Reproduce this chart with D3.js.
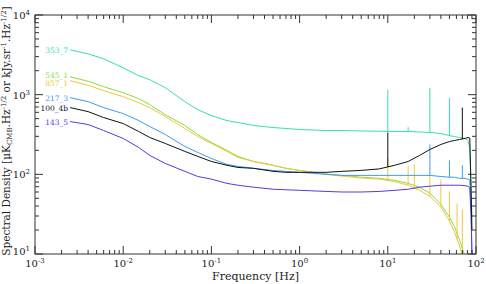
<!DOCTYPE html>
<html>
<head>
<meta charset="utf-8">
<script src="https://cdnjs.cloudflare.com/ajax/libs/d3/7.8.5/d3.min.js"></script>
<style>
    body { margin: 0; background: #fff; }
    text { font-family: "DejaVu Serif", serif; }
</style>
</head>
<body>
<svg id="chart" width="486" height="284"></svg>
<script>

// frequency grid [Hz], shared by every detector curve
let freqs = [0.0025, 0.004, 0.006, 0.01, 0.015, 0.02, 0.03, 0.05, 0.07, 0.1, 0.15, 0.2, 0.3, 0.5, 0.7,
    1, 2, 3, 5, 8, 12, 17, 23, 30, 40, 50, 57, 65, 75, 81, 85, 88, 90];

let names = ["353_7", "545_1", "857_1", "217_3", "100_4b", "143_5"];
let colors = ["#33e3a6", "#86df3c", "#f2c53c", "#3b9df0", "#111111", "#5a36df"];

let val353 = [3652, 3254, 2818, 2175, 1728, 1540, 1223, 817, 649, 546, 473, 447, 410, 387, 376,
    365, 355, 355, 350, 348, 345, 345, 340, 335, 325, 307, 298, 290, 282, 266, 217, 73, 29];
let val545 = [1679, 1475, 1259, 1059, 891, 750, 560, 410, 316, 251, 200, 168, 145, 130, 119,
    112, 101, 97, 92, 89, 84, 77, 69, 58, 42, 29, 22, 15, 9.4, 7.3, 6, 5, 5];
let val857 = [1496, 1314, 1122, 944, 794, 688, 531, 376, 299, 244, 194, 163, 145, 130, 119,
    112, 100, 95, 90, 87, 81, 73, 63, 53, 39, 26, 19, 12.6, 8, 6.5, 5, 5, 5];
let val217 = [917, 817, 688, 579, 473, 398, 316, 224, 188, 158, 133, 126, 119, 112, 109,
    106, 100, 97, 97, 97, 97, 97, 97, 97, 94, 92, 92, 89, 89, 87, 85, 40, 9];
let val100 = [688, 613, 516, 434, 345, 290, 244, 194, 168, 145, 130, 122, 119, 109, 106,
    106, 106, 109, 112, 117, 130, 145, 173, 205, 237, 258, 266, 274, 282, 290, 285, 60, 20];
let val143 = [460, 422, 355, 282, 217, 173, 137, 109, 94, 87, 77, 73, 69, 65, 64,
    63, 61, 60, 60, 61, 63, 65, 69, 71, 73, 73, 73, 73, 72, 71, 68, 30, 10];

// narrow lines: [frequency, peak value]
let spikes353 = [[10, 1155], [17, 390], [30, 1223], [50, 917]];
let spikes545 = [];
let spikes857 = [[10, 163], [17, 126], [20, 133], [30, 97], [40, 86], [50, 61], [61, 43], [70, 36]];
let spikes217 = [[30, 237], [50, 150], [70, 130]];
let spikes100 = [[10, 335], [70, 688]];
let spikes143 = [];

let xTickExp = ["-3", "-2", "-1", "0", "1", "2"];
let yTickExp = ["1", "2", "3", "4"];

let allValues = [val353, val545, val857, val217, val100, val143];
let allSpikes = [spikes353, spikes545, spikes857, spikes217, spikes100, spikes143];

let width = 486, height = 284;
let margin = {left: 35, right: 10, top: 15, bottom: 30};
let svg = d3.select("#chart");
let x, y;

function initScales() {
    x = d3.scaleLog().domain([1e-3, 1e2]).range([margin.left, width - margin.right]);
    y = d3.scaleLog().domain([10, 1e4]).range([height - margin.bottom, margin.top]);
}

// minor ticks 2..9 in every decade
function minorTicks(lo, hi) {
    let out = [];
    for (let e = lo; e < hi; e++) {
        for (let m = 2; m <= 9; m++) out.push(m * Math.pow(10, e));
    }
    return out;
}

function drawAxes() {
    let x0 = x.range()[0], x1 = x.range()[1];
    let y0 = y.range()[0], y1 = y.range()[1];
    let xMajor = xTickExp.map(e => Math.pow(10, +e));
    let yMajor = yTickExp.map(e => Math.pow(10, +e));
    let xMinor = minorTicks(-3, 2);
    let yMinor = minorTicks(1, 4);

    let g = svg.append("g").attr("stroke", "#333").attr("stroke-width", 1);

    // ticks point inward on all four sides
    [[y0, -1], [y1, 1]].forEach(([py, dir]) => {
        g.selectAll(null).data(xMajor).enter().append("line")
            .attr("x1", d => x(d)).attr("x2", d => x(d))
            .attr("y1", py).attr("y2", py + dir * 8);
        g.selectAll(null).data(xMinor).enter().append("line")
            .attr("x1", d => x(d)).attr("x2", d => x(d))
            .attr("y1", py).attr("y2", py + dir * 4);
    });
    [[x0, 1], [x1, -1]].forEach(([px, dir]) => {
        g.selectAll(null).data(yMajor).enter().append("line")
            .attr("y1", d => y(d)).attr("y2", d => y(d))
            .attr("x1", px).attr("x2", px + dir * 8);
        g.selectAll(null).data(yMinor).enter().append("line")
            .attr("y1", d => y(d)).attr("y2", d => y(d))
            .attr("x1", px).attr("x2", px + dir * 4);
    });

    g.append("rect")
        .attr("x", x0).attr("y", y1)
        .attr("width", x1 - x0).attr("height", y0 - y1)
        .attr("fill", "none");

    // tick labels 10^n
    let xl = svg.selectAll(".xlab").data(xTickExp).enter().append("text")
        .attr("class", "xlab")
        .attr("x", d => x(Math.pow(10, +d)))
        .attr("y", y0 + 13)
        .attr("text-anchor", "middle")
        .attr("font-size", 10)
        .attr("fill", "#222");
    xl.append("tspan").text("10");
    xl.append("tspan").attr("dy", -4).attr("font-size", 7).text(d => d);

    let yl = svg.selectAll(".ylab").data(yTickExp).enter().append("text")
        .attr("class", "ylab")
        .attr("x", x0 - 5)
        .attr("y", d => y(Math.pow(10, +d)) + (d === "1" ? 1 : 4))
        .attr("text-anchor", "end")
        .attr("font-size", 10)
        .attr("fill", "#222");
    yl.append("tspan").text("10");
    yl.append("tspan").attr("dy", -4).attr("font-size", 7).text(d => d);

    svg.append("text")
        .attr("x", (x0 + x1) / 2)
        .attr("y", y0 + 26)
        .attr("text-anchor", "middle")
        .attr("font-size", 11)
        .attr("fill", "#222")
        .text("Frequency [Hz]");

    // y title with sub / superscripts
    let yt = svg.append("text")
        .attr("transform", "translate(10," + 131 + ") rotate(-90)")
        .attr("text-anchor", "middle")
        .attr("font-size", 10.5)
        .attr("fill", "#222");
    let parts = [["Spectral Density [μK", 0], ["CMB", 1], [".Hz", -1], ["-1/2", 2],
        [" or kJy.sr", -2], ["-1", 2], [".Hz", -2], ["-1/2", 2], ["]", -2]];
    parts.forEach(([t, s]) => {
        let ts = yt.append("tspan").text(t);
        if (s === 1) ts.attr("dy", 2).attr("font-size", 7);
        if (s === -1) ts.attr("dy", -2);
        if (s === 2) ts.attr("dy", -4).attr("font-size", 7);
        if (s === -2) ts.attr("dy", 4);
    });
}

// log-log interpolation of a curve at frequency f
function curveAt(vals, f) {
    let i = d3.bisectLeft(freqs, f);
    if (i <= 0) return vals[0];
    if (i >= freqs.length) return vals[vals.length - 1];
    let t = (Math.log(f) - Math.log(freqs[i - 1])) / (Math.log(freqs[i]) - Math.log(freqs[i - 1]));
    return Math.exp(Math.log(vals[i - 1]) + t * (Math.log(vals[i]) - Math.log(vals[i - 1])));
}

function drawSeries() {
    svg.append("clipPath").attr("id", "plotclip")
        .append("rect")
        .attr("x", x.range()[0]).attr("y", y.range()[1])
        .attr("width", x.range()[1] - x.range()[0])
        .attr("height", y.range()[0] - y.range()[1]);

    let plot = svg.append("g").attr("clip-path", "url(#plotclip)");
    let line = d3.line().x(d => x(d[0])).y(d => y(d[1]));

    let order = [0, 1, 2, 3, 5, 4];
    order.forEach(k => {
        let vals = allValues[k];
        let pts = freqs.map((f, i) => [f, vals[i]]);
        plot.append("path")
            .attr("d", line(pts))
            .attr("fill", "none")
            .attr("stroke", colors[k])
            .attr("stroke-width", 1);

        plot.selectAll(null).data(allSpikes[k]).enter().append("line")
            .attr("x1", d => x(d[0])).attr("x2", d => x(d[0]))
            .attr("y1", d => y(curveAt(vals, d[0])))
            .attr("y2", d => y(d[1]))
            .attr("stroke", colors[k])
            .attr("stroke-width", 1);
    });

    // detector names at the start of each curve (545/857 nudged apart)
    let nudge = [0, -2, 2, 0, 0, 0];
    svg.selectAll(".name").data(names).enter().append("text")
        .attr("class", "name")
        .attr("x", x(freqs[0]) - 2)
        .attr("y", (d, i) => y(allValues[i][0]) + 3 + nudge[i])
        .attr("text-anchor", "end")
        .attr("font-family", "Liberation Sans, sans-serif")
        .attr("font-size", 7.5)
        .attr("fill", (d, i) => colors[i])
        .text(d => d);
}

function draw() {
    initScales();
    drawSeries();
    drawAxes();
}
draw();
</script>
</body>
</html>
